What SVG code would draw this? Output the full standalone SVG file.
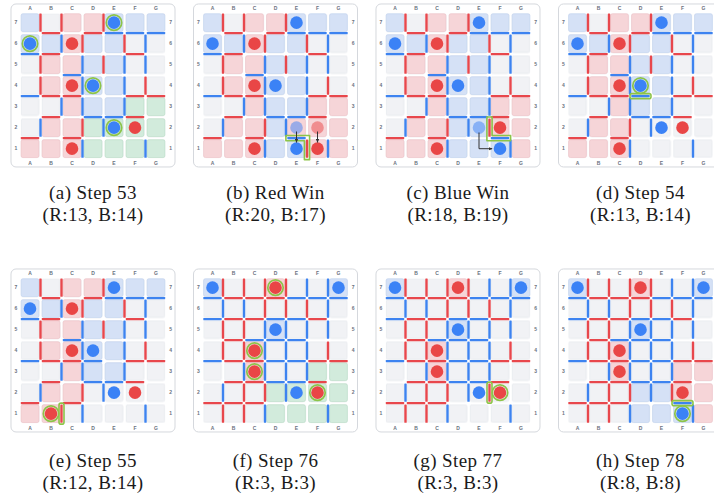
<svg xmlns="http://www.w3.org/2000/svg" width="714" height="504" viewBox="0 0 714 504">
<style>
.fr{fill:#fff;stroke:#d5d8dd;stroke-width:1}
.n{fill:#f1f2f5;stroke:#e1e4e9}
.r{fill:#f6d5d8;stroke:#eec0c4}
.b{fill:#d5e1f6;stroke:#bfd1ef}
.g{fill:#d2ebdc;stroke:#b7dcc5}
.R{fill:#e8474c}
.B{fill:#3d83f0}
.pr{fill:#e94646}
.pb{fill:#3b82f6}
.gh{opacity:0.5}
.ring{fill:none;stroke:#8dc449;stroke-width:1.7}
.hl{fill:none;stroke:#8dc449;stroke-width:1.6;stroke-linejoin:round}
.lb{font-family:"Liberation Sans",Arial,sans-serif;font-size:5px;font-weight:bold;fill:#6b7280;text-anchor:middle}
.cap{font-family:"Liberation Serif","Times New Roman",serif;font-size:19px;letter-spacing:0.4px;fill:#1a1a1a;text-anchor:middle}
.ar{fill:none;stroke:#333;stroke-width:1}
</style>
<defs>
<rect id="c" x="0.3" y="0.3" width="17.8" height="17.8" rx="1.8" stroke-width="0.6"/>
<pattern id="grid" patternUnits="userSpaceOnUse" width="21" height="21"><rect x="0.3" y="0.3" width="17.8" height="17.8" rx="1.8" fill="#f1f2f5" stroke="#e1e4e9" stroke-width="0.6"/></pattern>
<rect id="v" width="2.4" height="18.4" rx="0.6"/>
<rect id="h" width="18.4" height="2.4" rx="0.6"/>
<marker id="ah" viewBox="0 0 6 6" refX="5" refY="3" markerWidth="4" markerHeight="4" orient="auto"><path d="M0,0.5 L6,3 L0,5.5z" fill="#333"/></marker>
<g id="t1">
<use href="#c" class="b" x="0" y="0"/><use href="#c" class="r" x="42" y="0"/><use href="#c" class="r" x="63" y="0"/><use href="#c" class="b" x="84" y="0"/><use href="#c" class="b" x="105" y="0"/><use href="#c" class="b" x="126" y="0"/>
<use href="#c" class="b" x="0" y="21"/><use href="#c" class="b" x="21" y="21"/><use href="#c" class="r" x="42" y="21"/><use href="#c" class="b" x="63" y="21"/><use href="#c" class="b" x="84" y="21"/>
<use href="#c" class="r" x="21" y="42"/><use href="#c" class="r" x="42" y="42"/><use href="#c" class="b" x="63" y="42"/><use href="#c" class="b" x="84" y="42"/>
<use href="#c" class="r" x="21" y="63"/><use href="#c" class="r" x="42" y="63"/><use href="#c" class="b" x="63" y="63"/><use href="#c" class="b" x="84" y="63"/>
<use href="#c" class="r" x="42" y="84"/><use href="#c" class="b" x="63" y="84"/><use href="#c" class="b" x="84" y="84"/>
</g>
<g id="t2">
<use href="#c" class="b" x="0" y="0"/><use href="#c" class="r" x="63" y="0"/><use href="#c" class="b" x="126" y="0"/>
<use href="#c" class="b" x="63" y="42"/><use href="#c" class="r" x="42" y="63"/><use href="#c" class="r" x="42" y="84"/>
</g>
<g id="w1">
<use href="#v" class="R" x="18.5" y="0"/><use href="#v" class="R" x="39.5" y="0"/><use href="#v" class="R" x="81.5" y="0"/>
<use href="#v" class="B" x="39.5" y="21"/><use href="#v" class="R" x="60.5" y="21"/><use href="#v" class="R" x="102.5" y="21"/><use href="#v" class="B" x="123.5" y="21"/>
<use href="#v" class="R" x="18.5" y="42"/><use href="#v" class="B" x="60.5" y="42"/><use href="#v" class="R" x="81.5" y="42"/><use href="#v" class="B" x="102.5" y="42"/><use href="#v" class="B" x="123.5" y="42"/>
<use href="#v" class="R" x="18.5" y="63"/><use href="#v" class="B" x="60.5" y="63"/><use href="#v" class="B" x="102.5" y="63"/><use href="#v" class="R" x="123.5" y="63"/>
<use href="#v" class="B" x="39.5" y="84"/><use href="#v" class="B" x="60.5" y="84"/><use href="#v" class="B" x="102.5" y="84"/>
<use href="#v" class="B" x="18.5" y="105"/><use href="#v" class="R" x="60.5" y="105"/><use href="#v" class="B" x="81.5" y="105"/>
<use href="#v" class="B" x="60.5" y="126"/><use href="#v" class="B" x="123.5" y="126"/>
<use href="#h" class="R" x="21" y="18.5"/><use href="#h" class="R" x="63" y="18.5"/><use href="#h" class="B" x="84" y="18.5"/><use href="#h" class="B" x="105" y="18.5"/><use href="#h" class="B" x="126" y="18.5"/>
<use href="#h" class="B" x="0" y="39.5"/><use href="#h" class="R" x="21" y="39.5"/><use href="#h" class="R" x="105" y="39.5"/>
<use href="#h" class="B" x="42" y="60.5"/>
<use href="#h" class="B" x="0" y="81.5"/><use href="#h" class="R" x="21" y="81.5"/><use href="#h" class="R" x="42" y="81.5"/><use href="#h" class="R" x="105" y="81.5"/><use href="#h" class="R" x="126" y="81.5"/>
<use href="#h" class="R" x="21" y="102.5"/><use href="#h" class="B" x="63" y="102.5"/><use href="#h" class="B" x="84" y="102.5"/><use href="#h" class="R" x="105" y="102.5"/>
<use href="#h" class="R" x="0" y="123.5"/><use href="#h" class="R" x="42" y="123.5"/>
</g>
<g id="w2">
<use href="#v" class="R" x="18.5" y="0"/><use href="#v" class="R" x="39.5" y="0"/><use href="#v" class="R" x="60.5" y="0"/><use href="#v" class="R" x="81.5" y="0"/><use href="#v" class="B" x="102.5" y="0"/><use href="#v" class="B" x="123.5" y="0"/>
<use href="#v" class="B" x="18.5" y="21"/><use href="#v" class="B" x="39.5" y="21"/><use href="#v" class="R" x="60.5" y="21"/><use href="#v" class="R" x="81.5" y="21"/><use href="#v" class="R" x="102.5" y="21"/><use href="#v" class="B" x="123.5" y="21"/>
<use href="#v" class="R" x="18.5" y="42"/><use href="#v" class="R" x="39.5" y="42"/><use href="#v" class="B" x="60.5" y="42"/><use href="#v" class="B" x="81.5" y="42"/><use href="#v" class="B" x="102.5" y="42"/><use href="#v" class="B" x="123.5" y="42"/>
<use href="#v" class="R" x="18.5" y="63"/><use href="#v" class="R" x="39.5" y="63"/><use href="#v" class="B" x="60.5" y="63"/><use href="#v" class="B" x="81.5" y="63"/><use href="#v" class="B" x="102.5" y="63"/><use href="#v" class="R" x="123.5" y="63"/>
<use href="#v" class="B" x="39.5" y="84"/><use href="#v" class="B" x="60.5" y="84"/><use href="#v" class="B" x="81.5" y="84"/><use href="#v" class="B" x="102.5" y="84"/>
<use href="#v" class="B" x="18.5" y="105"/><use href="#v" class="R" x="39.5" y="105"/><use href="#v" class="R" x="60.5" y="105"/><use href="#v" class="B" x="81.5" y="105"/>
<use href="#v" class="R" x="18.5" y="126"/><use href="#v" class="R" x="39.5" y="126"/><use href="#v" class="B" x="60.5" y="126"/><use href="#v" class="B" x="123.5" y="126"/>
<use href="#h" class="B" x="0" y="18.5"/><use href="#h" class="R" x="21" y="18.5"/><use href="#h" class="R" x="42" y="18.5"/><use href="#h" class="R" x="63" y="18.5"/><use href="#h" class="B" x="84" y="18.5"/><use href="#h" class="B" x="105" y="18.5"/><use href="#h" class="B" x="126" y="18.5"/>
<use href="#h" class="B" x="0" y="39.5"/><use href="#h" class="R" x="21" y="39.5"/><use href="#h" class="R" x="42" y="39.5"/><use href="#h" class="B" x="63" y="39.5"/><use href="#h" class="B" x="84" y="39.5"/><use href="#h" class="R" x="105" y="39.5"/>
<use href="#h" class="R" x="21" y="60.5"/><use href="#h" class="B" x="42" y="60.5"/><use href="#h" class="B" x="63" y="60.5"/><use href="#h" class="B" x="84" y="60.5"/>
<use href="#h" class="B" x="0" y="81.5"/><use href="#h" class="R" x="21" y="81.5"/><use href="#h" class="R" x="42" y="81.5"/><use href="#h" class="B" x="63" y="81.5"/><use href="#h" class="B" x="84" y="81.5"/><use href="#h" class="R" x="105" y="81.5"/><use href="#h" class="R" x="126" y="81.5"/>
<use href="#h" class="R" x="21" y="102.5"/><use href="#h" class="R" x="42" y="102.5"/><use href="#h" class="B" x="63" y="102.5"/><use href="#h" class="B" x="84" y="102.5"/><use href="#h" class="R" x="105" y="102.5"/>
<use href="#h" class="R" x="0" y="123.5"/><use href="#h" class="R" x="21" y="123.5"/><use href="#h" class="R" x="42" y="123.5"/>
</g>
</defs>

<!-- Board a -->
<g id="board-a" transform="translate(20.8,13.47)">
<rect class="fr" x="-9.8" y="-9.5" width="164" height="163" rx="5"/>
<text class="lb" x="9.2 30.2 51.2 72.2 93.2 114.2 135.2" y="-3">ABCDEFG</text>
<text class="lb" x="9.2 30.2 51.2 72.2 93.2 114.2 135.2" y="151.3">ABCDEFG</text>
<text class="lb" x="-4.8 -4.8 -4.8 -4.8 -4.8 -4.8 -4.8" y="11 32 53 74 95 116 137">7654321</text>
<text class="lb" x="149.9 149.9 149.9 149.9 149.9 149.9 149.9" y="11 32 53 74 95 116 137">7654321</text>
<rect width="144.4" height="144.4" fill="url(#grid)"/>
<use href="#t1"/>
<use href="#c" class="g" x="105" y="84"/><use href="#c" class="g" x="126" y="84"/>
<use href="#c" class="r" x="21" y="105"/><use href="#c" class="r" x="42" y="105"/><use href="#c" class="g" x="63" y="105"/><use href="#c" class="g" x="84" y="105"/><use href="#c" class="g" x="105" y="105"/><use href="#c" class="g" x="126" y="105"/>
<use href="#c" class="r" x="0" y="126"/><use href="#c" class="r" x="21" y="126"/><use href="#c" class="r" x="42" y="126"/><use href="#c" class="g" x="63" y="126"/><use href="#c" class="g" x="84" y="126"/><use href="#c" class="g" x="105" y="126"/><use href="#c" class="g" x="126" y="126"/>
<use href="#w1"/>
<circle class="pb" cx="93.2" cy="9.2" r="6.3"/><circle class="ring" cx="93.2" cy="9.2" r="7.7"/>
<circle class="pb" cx="9.2" cy="30.2" r="6.3"/><circle class="ring" cx="9.2" cy="30.2" r="7.7"/>
<circle class="pr" cx="51.2" cy="30.2" r="6.3"/>
<circle class="pr" cx="51.2" cy="72.2" r="6.3"/>
<circle class="pb" cx="72.2" cy="72.2" r="6.3"/><circle class="ring" cx="72.2" cy="72.2" r="7.7"/>
<circle class="pb" cx="93.2" cy="114.2" r="6.3"/><circle class="ring" cx="93.2" cy="114.2" r="7.7"/>
<circle class="pr" cx="114.2" cy="114.2" r="6.3"/>
<circle class="pr" cx="51.2" cy="135.2" r="6.3"/>
</g>

<!-- Board b -->
<g id="board-b" transform="translate(203.3,13.47)">
<rect class="fr" x="-9.8" y="-9.5" width="164" height="163" rx="5"/>
<text class="lb" x="9.2 30.2 51.2 72.2 93.2 114.2 135.2" y="-3">ABCDEFG</text>
<text class="lb" x="9.2 30.2 51.2 72.2 93.2 114.2 135.2" y="151.3">ABCDEFG</text>
<text class="lb" x="-4.8 -4.8 -4.8 -4.8 -4.8 -4.8 -4.8" y="11 32 53 74 95 116 137">7654321</text>
<text class="lb" x="149.9 149.9 149.9 149.9 149.9 149.9 149.9" y="11 32 53 74 95 116 137">7654321</text>
<rect width="144.4" height="144.4" fill="url(#grid)"/>
<use href="#t1"/>
<use href="#c" class="r" x="105" y="84"/><use href="#c" class="r" x="126" y="84"/>
<use href="#c" class="r" x="21" y="105"/><use href="#c" class="r" x="42" y="105"/><use href="#c" class="b" x="63" y="105"/><use href="#c" class="r" x="84" y="105"/><use href="#c" class="r" x="105" y="105"/><use href="#c" class="r" x="126" y="105"/>
<use href="#c" class="r" x="0" y="126"/><use href="#c" class="r" x="21" y="126"/><use href="#c" class="r" x="42" y="126"/><use href="#c" class="b" x="63" y="126"/><use href="#c" class="b" x="84" y="126"/><use href="#c" class="r" x="105" y="126"/><use href="#c" class="r" x="126" y="126"/>
<use href="#w1"/>
<use href="#h" class="B" x="84" y="123.5"/><use href="#v" class="R" x="102.5" y="126"/>
<path class="hl" d="M82.6,122.1 H106.3 V146.2 H101.1 V127.3 H82.6 Z"/>
<circle class="pb" cx="93.2" cy="9.2" r="6.3"/>
<circle class="pb" cx="9.2" cy="30.2" r="6.3"/>
<circle class="pr" cx="51.2" cy="30.2" r="6.3"/>
<circle class="pr" cx="51.2" cy="72.2" r="6.3"/>
<circle class="pb" cx="72.2" cy="72.2" r="6.3"/>
<circle class="pb gh" cx="93.2" cy="114.2" r="6.3"/>
<circle class="pr gh" cx="114.2" cy="114.2" r="6.3"/>
<circle class="pb" cx="93.2" cy="135.2" r="6.3"/>
<circle class="pr" cx="114.2" cy="135.2" r="6.3"/>
<circle class="pr" cx="51.2" cy="135.2" r="6.3"/>
</g>

<!-- Board c -->
<g id="board-c" transform="translate(385.8,13.47)">
<rect class="fr" x="-9.8" y="-9.5" width="164" height="163" rx="5"/>
<text class="lb" x="9.2 30.2 51.2 72.2 93.2 114.2 135.2" y="-3">ABCDEFG</text>
<text class="lb" x="9.2 30.2 51.2 72.2 93.2 114.2 135.2" y="151.3">ABCDEFG</text>
<text class="lb" x="-4.8 -4.8 -4.8 -4.8 -4.8 -4.8 -4.8" y="11 32 53 74 95 116 137">7654321</text>
<text class="lb" x="149.9 149.9 149.9 149.9 149.9 149.9 149.9" y="11 32 53 74 95 116 137">7654321</text>
<rect width="144.4" height="144.4" fill="url(#grid)"/>
<use href="#t1"/>
<use href="#c" class="r" x="105" y="84"/><use href="#c" class="r" x="126" y="84"/>
<use href="#c" class="r" x="21" y="105"/><use href="#c" class="r" x="42" y="105"/><use href="#c" class="b" x="63" y="105"/><use href="#c" class="b" x="84" y="105"/><use href="#c" class="r" x="105" y="105"/><use href="#c" class="r" x="126" y="105"/>
<use href="#c" class="r" x="0" y="126"/><use href="#c" class="r" x="21" y="126"/><use href="#c" class="r" x="42" y="126"/><use href="#c" class="b" x="63" y="126"/><use href="#c" class="b" x="84" y="126"/><use href="#c" class="b" x="105" y="126"/><use href="#c" class="r" x="126" y="126"/>
<use href="#w1"/>
<use href="#v" class="R" x="102.5" y="105"/><use href="#h" class="B" x="105" y="123.5"/>
<path class="hl" d="M101.1,103.6 H106.3 V122.1 H124.8 V127.3 H101.1 Z"/>
<circle class="pb" cx="93.2" cy="9.2" r="6.3"/>
<circle class="pb" cx="9.2" cy="30.2" r="6.3"/>
<circle class="pr" cx="51.2" cy="30.2" r="6.3"/>
<circle class="pr" cx="51.2" cy="72.2" r="6.3"/>
<circle class="pb" cx="72.2" cy="72.2" r="6.3"/>
<circle class="pb gh" cx="93.2" cy="114.2" r="6.3"/>
<circle class="pr" cx="114.2" cy="114.2" r="6.3"/>
<circle class="pb" cx="114.2" cy="135.2" r="6.3"/>
<circle class="pr" cx="51.2" cy="135.2" r="6.3"/>
</g>

<!-- Board d -->
<g id="board-d" transform="translate(568.3,13.47)">
<rect class="fr" x="-9.8" y="-9.5" width="164" height="163" rx="5"/>
<text class="lb" x="9.2 30.2 51.2 72.2 93.2 114.2 135.2" y="-3">ABCDEFG</text>
<text class="lb" x="9.2 30.2 51.2 72.2 93.2 114.2 135.2" y="151.3">ABCDEFG</text>
<text class="lb" x="-4.8 -4.8 -4.8 -4.8 -4.8 -4.8 -4.8" y="11 32 53 74 95 116 137">7654321</text>
<rect width="144.4" height="144.4" fill="url(#grid)"/>
<use href="#t1"/>
<use href="#c" class="r" x="21" y="105"/><use href="#c" class="r" x="42" y="105"/>
<use href="#c" class="r" x="0" y="126"/><use href="#c" class="r" x="21" y="126"/><use href="#c" class="r" x="42" y="126"/>
<use href="#w1"/>
<use href="#h" class="B" x="63" y="81.5"/>
<rect class="hl" x="61.7" y="80.2" width="21" height="5" rx="2"/>
<circle class="pb" cx="93.2" cy="9.2" r="6.3"/>
<circle class="pb" cx="9.2" cy="30.2" r="6.3"/>
<circle class="pr" cx="51.2" cy="30.2" r="6.3"/>
<circle class="pr" cx="51.2" cy="72.2" r="6.3"/>
<circle class="pb" cx="72.2" cy="72.2" r="6.3"/><circle class="ring" cx="72.2" cy="72.2" r="7.7"/>
<circle class="pb" cx="93.2" cy="114.2" r="6.3"/>
<circle class="pr" cx="114.2" cy="114.2" r="6.3"/>
<circle class="pr" cx="51.2" cy="135.2" r="6.3"/>
</g>

<!-- Board e -->
<g id="board-e" transform="translate(20.8,278.47)">
<rect class="fr" x="-9.8" y="-9.5" width="164" height="163" rx="5"/>
<text class="lb" x="9.2 30.2 51.2 72.2 93.2 114.2 135.2" y="-3">ABCDEFG</text>
<text class="lb" x="9.2 30.2 51.2 72.2 93.2 114.2 135.2" y="151.3">ABCDEFG</text>
<text class="lb" x="-4.8 -4.8 -4.8 -4.8 -4.8 -4.8 -4.8" y="11 32 53 74 95 116 137">7654321</text>
<text class="lb" x="149.9 149.9 149.9 149.9 149.9 149.9 149.9" y="11 32 53 74 95 116 137">7654321</text>
<rect width="144.4" height="144.4" fill="url(#grid)"/>
<use href="#t1"/>
<use href="#c" class="r" x="21" y="105"/><use href="#c" class="r" x="42" y="105"/>
<use href="#c" class="r" x="0" y="126"/><use href="#c" class="r" x="21" y="126"/>
<use href="#w1"/>
<use href="#h" class="B" x="63" y="81.5"/>
<use href="#v" class="R" x="39.5" y="126"/>
<rect class="hl" x="38.2" y="124.7" width="5" height="21" rx="2"/>
<circle class="pb" cx="93.2" cy="9.2" r="6.3"/>
<circle class="pb" cx="9.2" cy="30.2" r="6.3"/>
<circle class="pr" cx="51.2" cy="30.2" r="6.3"/>
<circle class="pr" cx="51.2" cy="72.2" r="6.3"/>
<circle class="pb" cx="72.2" cy="72.2" r="6.3"/>
<circle class="pb" cx="93.2" cy="114.2" r="6.3"/>
<circle class="pr" cx="114.2" cy="114.2" r="6.3"/>
<circle class="pr" cx="30.2" cy="135.2" r="6.3"/><circle class="ring" cx="30.2" cy="135.2" r="7.7"/>
</g>

<!-- Board f -->
<g id="board-f" transform="translate(203.3,278.47)">
<rect class="fr" x="-9.8" y="-9.5" width="164" height="163" rx="5"/>
<text class="lb" x="9.2 30.2 51.2 72.2 93.2 114.2 135.2" y="-3">ABCDEFG</text>
<text class="lb" x="9.2 30.2 51.2 72.2 93.2 114.2 135.2" y="151.3">ABCDEFG</text>
<text class="lb" x="-4.8 -4.8 -4.8 -4.8 -4.8 -4.8 -4.8" y="11 32 53 74 95 116 137">7654321</text>
<text class="lb" x="149.9 149.9 149.9 149.9 149.9 149.9 149.9" y="11 32 53 74 95 116 137">7654321</text>
<rect width="144.4" height="144.4" fill="url(#grid)"/>
<use href="#t2"/>
<use href="#c" class="g" x="105" y="84"/><use href="#c" class="g" x="126" y="84"/>
<use href="#c" class="g" x="63" y="105"/><use href="#c" class="g" x="84" y="105"/><use href="#c" class="g" x="105" y="105"/><use href="#c" class="g" x="126" y="105"/>
<use href="#c" class="g" x="63" y="126"/><use href="#c" class="g" x="84" y="126"/><use href="#c" class="g" x="105" y="126"/><use href="#c" class="g" x="126" y="126"/>
<use href="#w2"/>
<circle class="pb" cx="9.2" cy="9.2" r="6.3"/>
<circle class="pr" cx="72.2" cy="9.2" r="6.3"/><circle class="ring" cx="72.2" cy="9.2" r="7.7"/>
<circle class="pb" cx="135.2" cy="9.2" r="6.3"/>
<circle class="pb" cx="72.2" cy="51.2" r="6.3"/>
<circle class="pr" cx="51.2" cy="72.2" r="6.3"/><circle class="ring" cx="51.2" cy="72.2" r="7.7"/>
<circle class="pr" cx="51.2" cy="93.2" r="6.3"/><circle class="ring" cx="51.2" cy="93.2" r="7.7"/>
<circle class="pb" cx="93.2" cy="114.2" r="6.3"/>
<circle class="pr" cx="114.2" cy="114.2" r="6.3"/><circle class="ring" cx="114.2" cy="114.2" r="7.7"/>
</g>

<!-- Board g -->
<g id="board-g" transform="translate(385.8,278.47)">
<rect class="fr" x="-9.8" y="-9.5" width="164" height="163" rx="5"/>
<text class="lb" x="9.2 30.2 51.2 72.2 93.2 114.2 135.2" y="-3">ABCDEFG</text>
<text class="lb" x="9.2 30.2 51.2 72.2 93.2 114.2 135.2" y="151.3">ABCDEFG</text>
<text class="lb" x="-4.8 -4.8 -4.8 -4.8 -4.8 -4.8 -4.8" y="11 32 53 74 95 116 137">7654321</text>
<text class="lb" x="149.9 149.9 149.9 149.9 149.9 149.9 149.9" y="11 32 53 74 95 116 137">7654321</text>
<rect width="144.4" height="144.4" fill="url(#grid)"/>
<use href="#t2"/>
<use href="#w2"/>
<use href="#v" class="R" x="102.5" y="105"/>
<rect class="hl" x="101.2" y="103.7" width="5" height="21" rx="2"/>
<circle class="pb" cx="9.2" cy="9.2" r="6.3"/>
<circle class="pr" cx="72.2" cy="9.2" r="6.3"/>
<circle class="pb" cx="135.2" cy="9.2" r="6.3"/>
<circle class="pb" cx="72.2" cy="51.2" r="6.3"/>
<circle class="pr" cx="51.2" cy="72.2" r="6.3"/>
<circle class="pr" cx="51.2" cy="93.2" r="6.3"/>
<circle class="pb" cx="93.2" cy="114.2" r="6.3"/>
<circle class="pr" cx="114.2" cy="114.2" r="6.3"/><circle class="ring" cx="114.2" cy="114.2" r="7.7"/>
</g>

<!-- Board h -->
<g id="board-h" transform="translate(568.3,278.47)">
<rect class="fr" x="-9.8" y="-9.5" width="164" height="163" rx="5"/>
<text class="lb" x="9.2 30.2 51.2 72.2 93.2 114.2 135.2" y="-3">ABCDEFG</text>
<text class="lb" x="9.2 30.2 51.2 72.2 93.2 114.2 135.2" y="151.3">ABCDEFG</text>
<text class="lb" x="-4.8 -4.8 -4.8 -4.8 -4.8 -4.8 -4.8" y="11 32 53 74 95 116 137">7654321</text>
<rect width="144.4" height="144.4" fill="url(#grid)"/>
<use href="#t2"/>
<use href="#c" class="r" x="105" y="84"/><use href="#c" class="r" x="126" y="84"/>
<use href="#c" class="b" x="63" y="105"/><use href="#c" class="b" x="84" y="105"/><use href="#c" class="r" x="105" y="105"/><use href="#c" class="r" x="126" y="105"/>
<use href="#c" class="b" x="63" y="126"/><use href="#c" class="b" x="84" y="126"/><use href="#c" class="b" x="105" y="126"/><use href="#c" class="r" x="126" y="126"/>
<use href="#w2"/>
<use href="#v" class="R" x="102.5" y="105"/>
<use href="#h" class="B" x="105" y="123.5"/>
<rect class="hl" x="103.7" y="122.2" width="21" height="5" rx="2"/>
<circle class="pb" cx="9.2" cy="9.2" r="6.3"/>
<circle class="pr" cx="72.2" cy="9.2" r="6.3"/>
<circle class="pb" cx="135.2" cy="9.2" r="6.3"/>
<circle class="pb" cx="72.2" cy="51.2" r="6.3"/>
<circle class="pr" cx="51.2" cy="72.2" r="6.3"/>
<circle class="pr" cx="51.2" cy="93.2" r="6.3"/>
<circle class="pr" cx="114.2" cy="114.2" r="6.3"/>
<circle class="pb" cx="114.2" cy="135.2" r="6.3"/><circle class="ring" cx="114.2" cy="135.2" r="7.7"/>
</g>

<g id="connectors">
<line class="ar" x1="296.5" y1="131.5" x2="296.5" y2="142.3" marker-end="url(#ah)"/>
<line class="ar" x1="317.5" y1="131.5" x2="317.5" y2="142.3" marker-end="url(#ah)"/>
<path class="ar" d="M479,132.5 V148.7 H492" marker-end="url(#ah)"/>
</g>

<g id="captions">
<text class="cap" x="93" y="199">(a) Step 53</text>
<text class="cap" x="93" y="221">(R:13, B:14)</text>
<text class="cap" x="275.5" y="199">(b) Red Win</text>
<text class="cap" x="275.5" y="221">(R:20, B:17)</text>
<text class="cap" x="458" y="199">(c) Blue Win</text>
<text class="cap" x="458" y="221">(R:18, B:19)</text>
<text class="cap" x="640.5" y="199">(d) Step 54</text>
<text class="cap" x="640.5" y="221">(R:13, B:14)</text>
<text class="cap" x="93" y="467">(e) Step 55</text>
<text class="cap" x="93" y="489">(R:12, B:14)</text>
<text class="cap" x="275.5" y="467">(f) Step 76</text>
<text class="cap" x="275.5" y="489">(R:3, B:3)</text>
<text class="cap" x="458" y="467">(g) Step 77</text>
<text class="cap" x="458" y="489">(R:3, B:3)</text>
<text class="cap" x="640.5" y="467">(h) Step 78</text>
<text class="cap" x="640.5" y="489">(R:8, B:8)</text>
</g>
</svg>
